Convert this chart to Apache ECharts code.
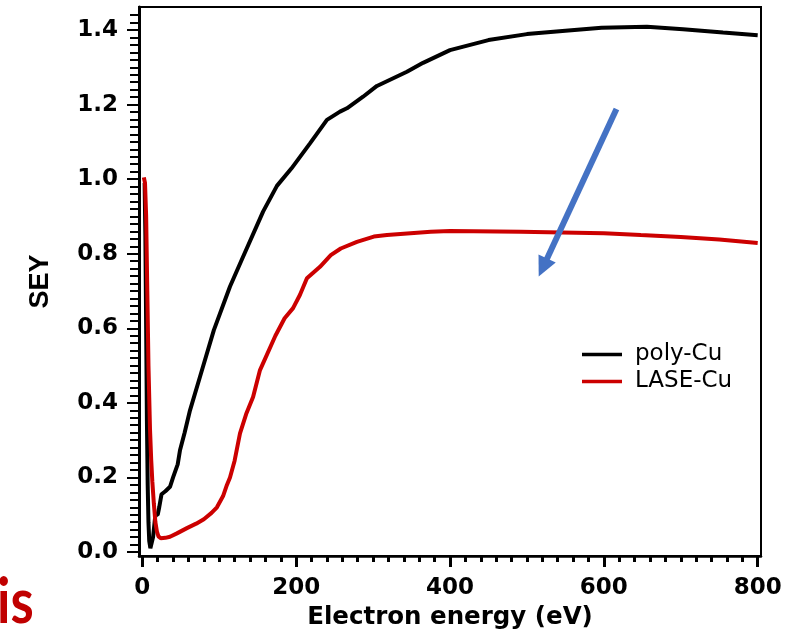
<!DOCTYPE html>
<html><head><meta charset="utf-8">
<script src="https://cdn.jsdelivr.net/npm/echarts@6/dist/echarts.min.js"></script>
<style>html,body{margin:0;padding:0;background:#fff}#c{width:786px;height:637px}</style>
</head><body><div id="c"></div>
<script>
// ---- data ----
const polyE   = [3, 4, 5, 6, 7, 8, 9, 10.5, 12, 14, 16, 17, 20, 22, 25, 30, 36, 40, 46, 49, 55, 62, 75, 93, 114, 131, 157, 175, 194, 218, 240, 257, 266, 287, 305, 344, 365, 400, 450, 500, 550, 597, 656, 703, 755, 800];
const polySEY = [0.99, 0.85, 0.6, 0.35, 0.18, 0.08, 0.03, 0.01, 0.015, 0.04, 0.08, 0.1, 0.1, 0.12, 0.155, 0.163, 0.175, 0.2, 0.235, 0.273, 0.32, 0.38, 0.47, 0.595, 0.712, 0.792, 0.913, 0.982, 1.029, 1.096, 1.159, 1.181, 1.19, 1.221, 1.25, 1.288, 1.312, 1.346, 1.373, 1.389, 1.398, 1.406, 1.409, 1.402, 1.393, 1.386];
const laseE   = [2, 3.5, 5, 6.5, 8, 10, 11.5, 13, 15, 17, 19, 21, 24, 30, 36, 45, 58, 70, 80, 90, 97, 105, 110, 114, 120, 127, 135, 144, 153, 160, 173, 185, 196, 205, 214, 231, 245, 258, 279, 301, 318, 375, 400, 492, 600, 648, 700, 750, 800];
const laseSEY = [1.005, 0.99, 0.9, 0.7, 0.5, 0.33, 0.25, 0.19, 0.13, 0.08, 0.055, 0.042, 0.037, 0.038, 0.041, 0.05, 0.064, 0.076, 0.088, 0.105, 0.12, 0.15, 0.18, 0.2, 0.245, 0.318, 0.37, 0.416, 0.488, 0.52, 0.58, 0.627, 0.654, 0.69, 0.734, 0.765, 0.796, 0.814, 0.832, 0.846, 0.85, 0.859, 0.861, 0.859, 0.855, 0.85, 0.845, 0.838, 0.829];
const seriesNames = ['poly-Cu', 'LASE-Cu'];
const xTickLabels = [0, 200, 400, 600, 800];
const yTickLabels = [0, 0.2, 0.4, 0.6, 0.8, 1.0, 1.2, 1.4];
const arrowFrom = [616.4, 1.188];
const arrowTo   = [520.8, 0.763];

// ---- chart ----
const X_MIN = -4.3, X_MAX = 804.3, Y_MIN = -0.0107, Y_MAX = 1.4617;
const G = {left: 139, top: 7, right: 25, bottom: 81};
const W = 786, H = 637;
const gridW = W - G.left - G.right, gridH = H - G.top - G.bottom;
const xMinor = []; for (let i = 0; i <= 40; i++) xMinor.push(i * 20);
const yMinor = []; for (let i = 0; i <= 72; i++) yMinor.push(+(i * 0.02).toFixed(2));
const pairs = (a, b) => a.map((v, i) => [v, b[i]]);
const tickFont = {fontFamily: 'DejaVu Sans', fontWeight: 'bold', fontSize: 23, color: '#000'};

const chart = echarts.init(document.getElementById('c'), null, {renderer: 'canvas'});
chart.setOption({
  animation: false,
  backgroundColor: '#fff',
  grid: {left: G.left, top: G.top, right: G.right, bottom: G.bottom, show: true, borderColor: '#000', borderWidth: 2, backgroundColor: 'transparent'},
  xAxis: [{
    type: 'value', position: 'bottom', min: X_MIN, max: X_MAX,
    axisLine: {show: true, onZero: false, lineStyle: {color: '#000', width: 2.5}},
    axisTick: {show: true, customValues: xTickLabels, length: 11, lineStyle: {color: '#000', width: 3}},
    axisLabel: {customValues: xTickLabels, margin: 21, ...tickFont},
    splitLine: {show: false},
    name: 'Electron energy (eV)', nameLocation: 'middle', nameGap: 45,
    nameTextStyle: {fontFamily: 'DejaVu Sans', fontWeight: 'bold', fontSize: 24.5, color: '#000'}
  }, {
    type: 'value', position: 'top', offset: -gridH, min: X_MIN, max: X_MAX,
    axisLine: {show: false, onZero: false},
    axisTick: {show: true, inside: true, customValues: xMinor, length: 6, lineStyle: {color: '#000', width: 3}},
    axisLabel: {show: false}, splitLine: {show: false}
  }],
  yAxis: [{
    type: 'value', position: 'left', min: Y_MIN, max: Y_MAX,
    axisLine: {show: true, onZero: false, lineStyle: {color: '#000', width: 3}},
    axisTick: {show: true, customValues: yTickLabels, length: 12, lineStyle: {color: '#000', width: 2}},
    axisLabel: {customValues: yTickLabels, margin: 21, formatter: v => v.toFixed(1), ...tickFont},
    splitLine: {show: false},
    name: 'SEY', nameLocation: 'middle', nameGap: 85,
    nameTextStyle: {fontFamily: 'Liberation Sans', fontWeight: 'bold', fontSize: 27, color: '#000'}
  }, {
    type: 'value', position: 'right', offset: -gridW, min: Y_MIN, max: Y_MAX,
    axisLine: {show: false, onZero: false},
    axisTick: {show: true, inside: true, customValues: yMinor, length: 9, lineStyle: {color: '#000', width: 2}},
    axisLabel: {show: false}, splitLine: {show: false}
  }],
  legend: {
    data: seriesNames, orient: 'vertical', left: 582, top: 343, padding: 0,
    icon: 'rect', itemWidth: 40, itemHeight: 3.5, itemGap: 4,
    selectedMode: false,
    textStyle: {fontFamily: 'DejaVu Sans', fontSize: 23, color: '#000', lineHeight: 23, padding: [0, 0, 0, 8]}
  },
  graphic: [{
    type: 'text', x: -3, y: 571, scaleX: 0.84, silent: true,
    style: {text: 'is', fontFamily: 'Lato', fontWeight: 'bold', fontSize: 63, fill: '#C00000', verticalAlign: 'top'}
  }],
  series: [{
    name: seriesNames[0], type: 'line', symbol: 'none', data: pairs(polyE, polySEY),
    lineStyle: {color: '#000', width: 4}, itemStyle: {color: '#000'}, z: 2
  }, {
    name: seriesNames[1], type: 'line', symbol: 'none', data: pairs(laseE, laseSEY),
    lineStyle: {color: '#CC0000', width: 4}, itemStyle: {color: '#CC0000'}, z: 3,
    markLine: {
      silent: true, symbol: ['none', 'triangle'], symbolSize: [19, 20], label: {show: false},
      lineStyle: {color: '#4472C4', width: 6, type: 'solid'}, emphasis: {disabled: true},
      data: [[{coord: arrowFrom}, {coord: arrowTo}]]
    }
  }]
});
</script></body></html>
